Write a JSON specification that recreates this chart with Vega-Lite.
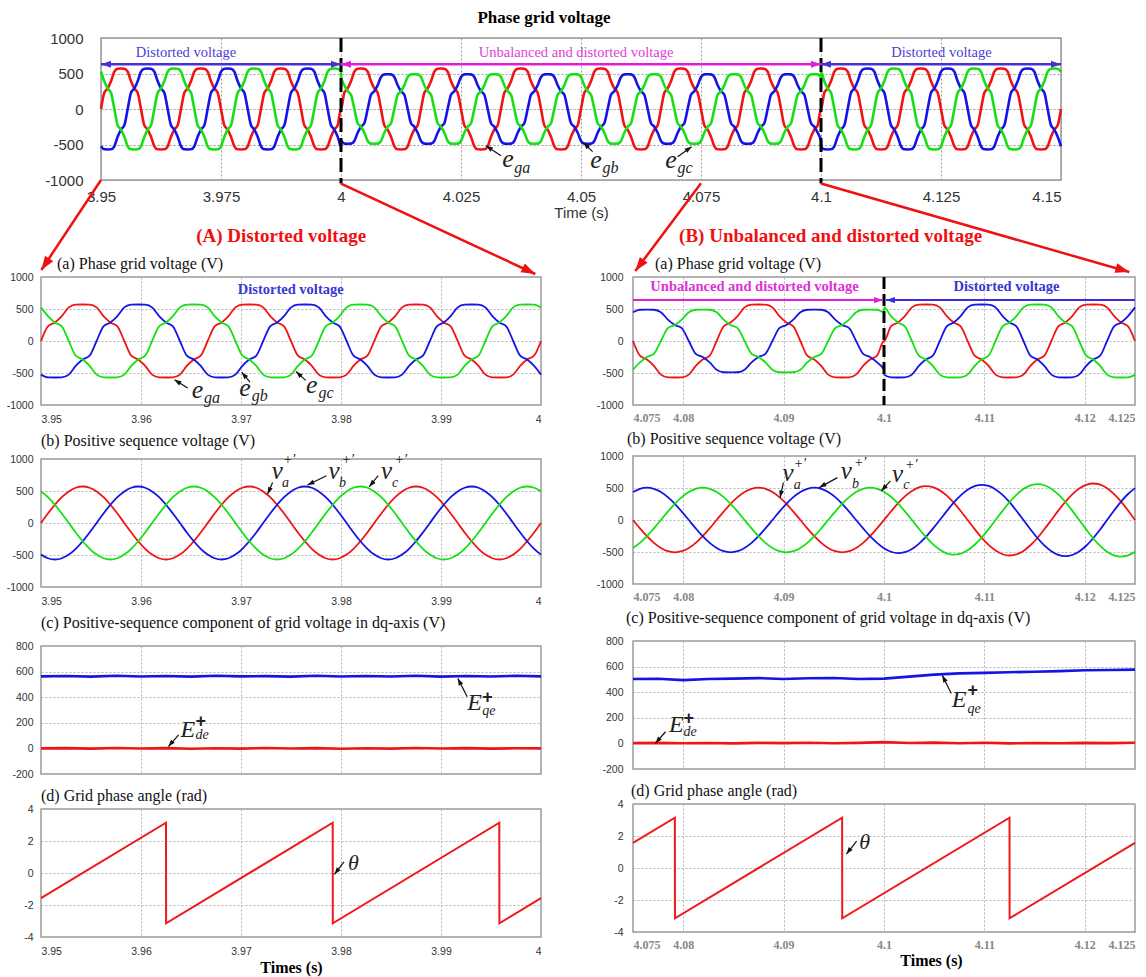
{
"$schema":"https://vega.github.io/schema/vega-lite/v6.json",
"background":"white",
"padding":{"left":5,"top":8,"right":0,"bottom":0},
"config":{
 "view":{"stroke":"#999","strokeWidth":1.5,"fill":"white"},
 "axis":{"ticks":false,"domain":false,"grid":true,"gridColor":"#b5b5b5","gridDash":[2,2],"gridWidth":1,"labelOverlap":false,"labelFont":"Liberation Sans Narrow, Liberation Sans","labelFontSize":10.5,"labelColor":"#333"},
 "title":{"font":"Liberation Serif","fontSize":16,"fontWeight":"normal","color":"#111","anchor":"start","frame":"group","offset":4},
 "text":{"font":"Liberation Serif"}
},
"datasets":{
 "pv":[
{"t":3.95,"a":0,"b":-525,"c":525},{"t":3.95069,"a":230,"b":-568,"c":390},{"t":3.95139,"a":290,"b":-570,"c":290},{"t":3.95208,"a":390,"b":-568,"c":230},{"t":3.95278,"a":525,"b":-525,"c":0},{"t":3.95347,"a":568,"b":-390,"c":-230},{"t":3.95417,"a":570,"b":-290,"c":-290},{"t":3.95486,"a":568,"b":-230,"c":-390},{"t":3.95556,"a":525,"b":0,"c":-525},{"t":3.95625,"a":390,"b":230,"c":-568},{"t":3.95694,"a":290,"b":290,"c":-570},{"t":3.95764,"a":230,"b":390,"c":-568},{"t":3.95833,"a":0,"b":525,"c":-525},{"t":3.95903,"a":-230,"b":568,"c":-390},{"t":3.95972,"a":-290,"b":570,"c":-290},{"t":3.96042,"a":-390,"b":568,"c":-230},{"t":3.96111,"a":-525,"b":525,"c":0},{"t":3.96181,"a":-568,"b":390,"c":230},{"t":3.9625,"a":-570,"b":290,"c":290},{"t":3.96319,"a":-568,"b":230,"c":390},{"t":3.96389,"a":-525,"b":0,"c":525},{"t":3.96458,"a":-390,"b":-230,"c":568},{"t":3.96528,"a":-290,"b":-290,"c":570},{"t":3.96597,"a":-230,"b":-390,"c":568},
{"t":3.96667,"a":0,"b":-525,"c":525},{"t":3.96736,"a":230,"b":-568,"c":390},{"t":3.96806,"a":290,"b":-570,"c":290},{"t":3.96875,"a":390,"b":-568,"c":230},{"t":3.96944,"a":525,"b":-525,"c":0},{"t":3.97014,"a":568,"b":-390,"c":-230},{"t":3.97083,"a":570,"b":-290,"c":-290},{"t":3.97153,"a":568,"b":-230,"c":-390},{"t":3.97222,"a":525,"b":0,"c":-525},{"t":3.97292,"a":390,"b":230,"c":-568},{"t":3.97361,"a":290,"b":290,"c":-570},{"t":3.97431,"a":230,"b":390,"c":-568},{"t":3.975,"a":0,"b":525,"c":-525},{"t":3.97569,"a":-230,"b":568,"c":-390},{"t":3.97639,"a":-290,"b":570,"c":-290},{"t":3.97708,"a":-390,"b":568,"c":-230},{"t":3.97778,"a":-525,"b":525,"c":0},{"t":3.97847,"a":-568,"b":390,"c":230},{"t":3.97917,"a":-570,"b":290,"c":290},{"t":3.97986,"a":-568,"b":230,"c":390},{"t":3.98056,"a":-525,"b":0,"c":525},{"t":3.98125,"a":-390,"b":-230,"c":568},{"t":3.98194,"a":-290,"b":-290,"c":570},{"t":3.98264,"a":-230,"b":-390,"c":568},
{"t":3.98333,"a":0,"b":-525,"c":525},{"t":3.98403,"a":230,"b":-568,"c":390},{"t":3.98472,"a":290,"b":-570,"c":290},{"t":3.98542,"a":390,"b":-568,"c":230},{"t":3.98611,"a":525,"b":-525,"c":0},{"t":3.98681,"a":568,"b":-390,"c":-230},{"t":3.9875,"a":570,"b":-290,"c":-290},{"t":3.98819,"a":568,"b":-230,"c":-390},{"t":3.98889,"a":525,"b":0,"c":-525},{"t":3.98958,"a":390,"b":230,"c":-568},{"t":3.99028,"a":290,"b":290,"c":-570},{"t":3.99097,"a":230,"b":390,"c":-568},{"t":3.99167,"a":0,"b":525,"c":-525},{"t":3.99236,"a":-230,"b":568,"c":-390},{"t":3.99306,"a":-290,"b":570,"c":-290},{"t":3.99375,"a":-390,"b":568,"c":-230},{"t":3.99444,"a":-525,"b":525,"c":0},{"t":3.99514,"a":-568,"b":390,"c":230},{"t":3.99583,"a":-570,"b":290,"c":290},{"t":3.99653,"a":-568,"b":230,"c":390},{"t":3.99722,"a":-525,"b":0,"c":525},{"t":3.99792,"a":-390,"b":-230,"c":568},{"t":3.99861,"a":-290,"b":-290,"c":570},{"t":3.99931,"a":-230,"b":-390,"c":568},
{"t":4.0,"a":0,"b":-525,"c":525},
{"t":4.00001,"a":0,"b":-450,"c":450},{"t":4.00069,"a":230,"b":-488,"c":335},{"t":4.00139,"a":290,"b":-490,"c":250},{"t":4.00208,"a":390,"b":-488,"c":200},{"t":4.00278,"a":525,"b":-450,"c":0},{"t":4.00347,"a":568,"b":-335,"c":-200},{"t":4.00417,"a":570,"b":-250,"c":-250},{"t":4.00486,"a":568,"b":-200,"c":-335},{"t":4.00556,"a":525,"b":0,"c":-450},{"t":4.00625,"a":390,"b":200,"c":-488},{"t":4.00694,"a":290,"b":250,"c":-490},{"t":4.00764,"a":230,"b":335,"c":-488},{"t":4.00833,"a":0,"b":450,"c":-450},{"t":4.00903,"a":-230,"b":488,"c":-335},{"t":4.00972,"a":-290,"b":490,"c":-250},{"t":4.01042,"a":-390,"b":488,"c":-200},{"t":4.01111,"a":-525,"b":450,"c":0},{"t":4.01181,"a":-568,"b":335,"c":200},{"t":4.0125,"a":-570,"b":250,"c":250},{"t":4.01319,"a":-568,"b":200,"c":335},{"t":4.01389,"a":-525,"b":0,"c":450},{"t":4.01458,"a":-390,"b":-200,"c":488},{"t":4.01528,"a":-290,"b":-250,"c":490},{"t":4.01597,"a":-230,"b":-335,"c":488},
{"t":4.01667,"a":0,"b":-450,"c":450},{"t":4.01736,"a":230,"b":-488,"c":335},{"t":4.01806,"a":290,"b":-490,"c":250},{"t":4.01875,"a":390,"b":-488,"c":200},{"t":4.01944,"a":525,"b":-450,"c":0},{"t":4.02014,"a":568,"b":-335,"c":-200},{"t":4.02083,"a":570,"b":-250,"c":-250},{"t":4.02153,"a":568,"b":-200,"c":-335},{"t":4.02222,"a":525,"b":0,"c":-450},{"t":4.02292,"a":390,"b":200,"c":-488},{"t":4.02361,"a":290,"b":250,"c":-490},{"t":4.02431,"a":230,"b":335,"c":-488},{"t":4.025,"a":0,"b":450,"c":-450},{"t":4.02569,"a":-230,"b":488,"c":-335},{"t":4.02639,"a":-290,"b":490,"c":-250},{"t":4.02708,"a":-390,"b":488,"c":-200},{"t":4.02778,"a":-525,"b":450,"c":0},{"t":4.02847,"a":-568,"b":335,"c":200},{"t":4.02917,"a":-570,"b":250,"c":250},{"t":4.02986,"a":-568,"b":200,"c":335},{"t":4.03056,"a":-525,"b":0,"c":450},{"t":4.03125,"a":-390,"b":-200,"c":488},{"t":4.03194,"a":-290,"b":-250,"c":490},{"t":4.03264,"a":-230,"b":-335,"c":488},
{"t":4.03333,"a":0,"b":-450,"c":450},{"t":4.03403,"a":230,"b":-488,"c":335},{"t":4.03472,"a":290,"b":-490,"c":250},{"t":4.03542,"a":390,"b":-488,"c":200},{"t":4.03611,"a":525,"b":-450,"c":0},{"t":4.03681,"a":568,"b":-335,"c":-200},{"t":4.0375,"a":570,"b":-250,"c":-250},{"t":4.03819,"a":568,"b":-200,"c":-335},{"t":4.03889,"a":525,"b":0,"c":-450},{"t":4.03958,"a":390,"b":200,"c":-488},{"t":4.04028,"a":290,"b":250,"c":-490},{"t":4.04097,"a":230,"b":335,"c":-488},{"t":4.04167,"a":0,"b":450,"c":-450},{"t":4.04236,"a":-230,"b":488,"c":-335},{"t":4.04306,"a":-290,"b":490,"c":-250},{"t":4.04375,"a":-390,"b":488,"c":-200},{"t":4.04444,"a":-525,"b":450,"c":0},{"t":4.04514,"a":-568,"b":335,"c":200},{"t":4.04583,"a":-570,"b":250,"c":250},{"t":4.04653,"a":-568,"b":200,"c":335},{"t":4.04722,"a":-525,"b":0,"c":450},{"t":4.04792,"a":-390,"b":-200,"c":488},{"t":4.04861,"a":-290,"b":-250,"c":490},{"t":4.04931,"a":-230,"b":-335,"c":488},
{"t":4.05,"a":0,"b":-450,"c":450},{"t":4.05069,"a":230,"b":-488,"c":335},{"t":4.05139,"a":290,"b":-490,"c":250},{"t":4.05208,"a":390,"b":-488,"c":200},{"t":4.05278,"a":525,"b":-450,"c":0},{"t":4.05347,"a":568,"b":-335,"c":-200},{"t":4.05417,"a":570,"b":-250,"c":-250},{"t":4.05486,"a":568,"b":-200,"c":-335},{"t":4.05556,"a":525,"b":0,"c":-450},{"t":4.05625,"a":390,"b":200,"c":-488},{"t":4.05694,"a":290,"b":250,"c":-490},{"t":4.05764,"a":230,"b":335,"c":-488},{"t":4.05833,"a":0,"b":450,"c":-450},{"t":4.05903,"a":-230,"b":488,"c":-335},{"t":4.05972,"a":-290,"b":490,"c":-250},{"t":4.06042,"a":-390,"b":488,"c":-200},{"t":4.06111,"a":-525,"b":450,"c":0},{"t":4.06181,"a":-568,"b":335,"c":200},{"t":4.0625,"a":-570,"b":250,"c":250},{"t":4.06319,"a":-568,"b":200,"c":335},{"t":4.06389,"a":-525,"b":0,"c":450},{"t":4.06458,"a":-390,"b":-200,"c":488},{"t":4.06528,"a":-290,"b":-250,"c":490},{"t":4.06597,"a":-230,"b":-335,"c":488},
{"t":4.06667,"a":0,"b":-450,"c":450},{"t":4.06736,"a":230,"b":-488,"c":335},{"t":4.06806,"a":290,"b":-490,"c":250},{"t":4.06875,"a":390,"b":-488,"c":200},{"t":4.06944,"a":525,"b":-450,"c":0},{"t":4.07014,"a":568,"b":-335,"c":-200},{"t":4.07083,"a":570,"b":-250,"c":-250},{"t":4.07153,"a":568,"b":-200,"c":-335},{"t":4.07222,"a":525,"b":0,"c":-450},{"t":4.07292,"a":390,"b":200,"c":-488},{"t":4.07361,"a":290,"b":250,"c":-490},{"t":4.07431,"a":230,"b":335,"c":-488},{"t":4.075,"a":0,"b":450,"c":-450},{"t":4.07569,"a":-230,"b":488,"c":-335},{"t":4.07639,"a":-290,"b":490,"c":-250},{"t":4.07708,"a":-390,"b":488,"c":-200},{"t":4.07778,"a":-525,"b":450,"c":0},{"t":4.07847,"a":-568,"b":335,"c":200},{"t":4.07917,"a":-570,"b":250,"c":250},{"t":4.07986,"a":-568,"b":200,"c":335},{"t":4.08056,"a":-525,"b":0,"c":450},{"t":4.08125,"a":-390,"b":-200,"c":488},{"t":4.08194,"a":-290,"b":-250,"c":490},{"t":4.08264,"a":-230,"b":-335,"c":488},
{"t":4.08333,"a":0,"b":-450,"c":450},{"t":4.08403,"a":230,"b":-488,"c":335},{"t":4.08472,"a":290,"b":-490,"c":250},{"t":4.08542,"a":390,"b":-488,"c":200},{"t":4.08611,"a":525,"b":-450,"c":0},{"t":4.08681,"a":568,"b":-335,"c":-200},{"t":4.0875,"a":570,"b":-250,"c":-250},{"t":4.08819,"a":568,"b":-200,"c":-335},{"t":4.08889,"a":525,"b":0,"c":-450},{"t":4.08958,"a":390,"b":200,"c":-488},{"t":4.09028,"a":290,"b":250,"c":-490},{"t":4.09097,"a":230,"b":335,"c":-488},{"t":4.09167,"a":0,"b":450,"c":-450},{"t":4.09236,"a":-230,"b":488,"c":-335},{"t":4.09306,"a":-290,"b":490,"c":-250},{"t":4.09375,"a":-390,"b":488,"c":-200},{"t":4.09444,"a":-525,"b":450,"c":0},{"t":4.09514,"a":-568,"b":335,"c":200},{"t":4.09583,"a":-570,"b":250,"c":250},{"t":4.09653,"a":-568,"b":200,"c":335},{"t":4.09722,"a":-525,"b":0,"c":450},{"t":4.09792,"a":-390,"b":-200,"c":488},{"t":4.09861,"a":-290,"b":-250,"c":490},{"t":4.09931,"a":-230,"b":-335,"c":488},
{"t":4.1,"a":0,"b":-450,"c":450},
{"t":4.10001,"a":0,"b":-525,"c":525},{"t":4.10069,"a":230,"b":-568,"c":390},{"t":4.10139,"a":290,"b":-570,"c":290},{"t":4.10208,"a":390,"b":-568,"c":230},{"t":4.10278,"a":525,"b":-525,"c":0},{"t":4.10347,"a":568,"b":-390,"c":-230},{"t":4.10417,"a":570,"b":-290,"c":-290},{"t":4.10486,"a":568,"b":-230,"c":-390},{"t":4.10556,"a":525,"b":0,"c":-525},{"t":4.10625,"a":390,"b":230,"c":-568},{"t":4.10694,"a":290,"b":290,"c":-570},{"t":4.10764,"a":230,"b":390,"c":-568},{"t":4.10833,"a":0,"b":525,"c":-525},{"t":4.10903,"a":-230,"b":568,"c":-390},{"t":4.10972,"a":-290,"b":570,"c":-290},{"t":4.11042,"a":-390,"b":568,"c":-230},{"t":4.11111,"a":-525,"b":525,"c":0},{"t":4.11181,"a":-568,"b":390,"c":230},{"t":4.1125,"a":-570,"b":290,"c":290},{"t":4.11319,"a":-568,"b":230,"c":390},{"t":4.11389,"a":-525,"b":0,"c":525},{"t":4.11458,"a":-390,"b":-230,"c":568},{"t":4.11528,"a":-290,"b":-290,"c":570},{"t":4.11597,"a":-230,"b":-390,"c":568},
{"t":4.11667,"a":0,"b":-525,"c":525},{"t":4.11736,"a":230,"b":-568,"c":390},{"t":4.11806,"a":290,"b":-570,"c":290},{"t":4.11875,"a":390,"b":-568,"c":230},{"t":4.11944,"a":525,"b":-525,"c":0},{"t":4.12014,"a":568,"b":-390,"c":-230},{"t":4.12083,"a":570,"b":-290,"c":-290},{"t":4.12153,"a":568,"b":-230,"c":-390},{"t":4.12222,"a":525,"b":0,"c":-525},{"t":4.12292,"a":390,"b":230,"c":-568},{"t":4.12361,"a":290,"b":290,"c":-570},{"t":4.12431,"a":230,"b":390,"c":-568},{"t":4.125,"a":0,"b":525,"c":-525},{"t":4.12569,"a":-230,"b":568,"c":-390},{"t":4.12639,"a":-290,"b":570,"c":-290},{"t":4.12708,"a":-390,"b":568,"c":-230},{"t":4.12778,"a":-525,"b":525,"c":0},{"t":4.12847,"a":-568,"b":390,"c":230},{"t":4.12917,"a":-570,"b":290,"c":290},{"t":4.12986,"a":-568,"b":230,"c":390},{"t":4.13056,"a":-525,"b":0,"c":525},{"t":4.13125,"a":-390,"b":-230,"c":568},{"t":4.13194,"a":-290,"b":-290,"c":570},{"t":4.13264,"a":-230,"b":-390,"c":568},
{"t":4.13333,"a":0,"b":-525,"c":525},{"t":4.13403,"a":230,"b":-568,"c":390},{"t":4.13472,"a":290,"b":-570,"c":290},{"t":4.13542,"a":390,"b":-568,"c":230},{"t":4.13611,"a":525,"b":-525,"c":0},{"t":4.13681,"a":568,"b":-390,"c":-230},{"t":4.1375,"a":570,"b":-290,"c":-290},{"t":4.13819,"a":568,"b":-230,"c":-390},{"t":4.13889,"a":525,"b":0,"c":-525},{"t":4.13958,"a":390,"b":230,"c":-568},{"t":4.14028,"a":290,"b":290,"c":-570},{"t":4.14097,"a":230,"b":390,"c":-568},{"t":4.14167,"a":0,"b":525,"c":-525},{"t":4.14236,"a":-230,"b":568,"c":-390},{"t":4.14306,"a":-290,"b":570,"c":-290},{"t":4.14375,"a":-390,"b":568,"c":-230},{"t":4.14444,"a":-525,"b":525,"c":0},{"t":4.14514,"a":-568,"b":390,"c":230},{"t":4.14583,"a":-570,"b":290,"c":290},{"t":4.14653,"a":-568,"b":230,"c":390},{"t":4.14722,"a":-525,"b":0,"c":525},{"t":4.14792,"a":-390,"b":-230,"c":568},{"t":4.14861,"a":-290,"b":-290,"c":570},{"t":4.14931,"a":-230,"b":-390,"c":568},
{"t":4.15,"a":0,"b":-525,"c":525}
 ],
 "ps":[
{"t":3.95,"a":0,"b":-494,"c":494},{"t":3.95069,"a":148,"b":-551,"c":403},{"t":3.95139,"a":285,"b":-570,"c":285},{"t":3.95208,"a":403,"b":-551,"c":148},{"t":3.95278,"a":494,"b":-494,"c":0},{"t":3.95347,"a":551,"b":-403,"c":-148},{"t":3.95417,"a":570,"b":-285,"c":-285},{"t":3.95486,"a":551,"b":-148,"c":-403},{"t":3.95556,"a":494,"b":0,"c":-494},{"t":3.95625,"a":403,"b":148,"c":-551},{"t":3.95694,"a":285,"b":285,"c":-570},{"t":3.95764,"a":148,"b":403,"c":-551},{"t":3.95833,"a":0,"b":494,"c":-494},{"t":3.95903,"a":-148,"b":551,"c":-403},{"t":3.95972,"a":-285,"b":570,"c":-285},{"t":3.96042,"a":-403,"b":551,"c":-148},{"t":3.96111,"a":-494,"b":494,"c":0},{"t":3.96181,"a":-551,"b":403,"c":148},{"t":3.9625,"a":-570,"b":285,"c":285},{"t":3.96319,"a":-551,"b":148,"c":403},{"t":3.96389,"a":-494,"b":0,"c":494},{"t":3.96458,"a":-403,"b":-148,"c":551},{"t":3.96528,"a":-285,"b":-285,"c":570},{"t":3.96597,"a":-148,"b":-403,"c":551},
{"t":3.96667,"a":0,"b":-494,"c":494},{"t":3.96736,"a":148,"b":-551,"c":403},{"t":3.96806,"a":285,"b":-570,"c":285},{"t":3.96875,"a":403,"b":-551,"c":148},{"t":3.96944,"a":494,"b":-494,"c":0},{"t":3.97014,"a":551,"b":-403,"c":-148},{"t":3.97083,"a":570,"b":-285,"c":-285},{"t":3.97153,"a":551,"b":-148,"c":-403},{"t":3.97222,"a":494,"b":0,"c":-494},{"t":3.97292,"a":403,"b":148,"c":-551},{"t":3.97361,"a":285,"b":285,"c":-570},{"t":3.97431,"a":148,"b":403,"c":-551},{"t":3.975,"a":0,"b":494,"c":-494},{"t":3.97569,"a":-148,"b":551,"c":-403},{"t":3.97639,"a":-285,"b":570,"c":-285},{"t":3.97708,"a":-403,"b":551,"c":-148},{"t":3.97778,"a":-494,"b":494,"c":0},{"t":3.97847,"a":-551,"b":403,"c":148},{"t":3.97917,"a":-570,"b":285,"c":285},{"t":3.97986,"a":-551,"b":148,"c":403},{"t":3.98056,"a":-494,"b":0,"c":494},{"t":3.98125,"a":-403,"b":-148,"c":551},{"t":3.98194,"a":-285,"b":-285,"c":570},{"t":3.98264,"a":-148,"b":-403,"c":551},
{"t":3.98333,"a":0,"b":-494,"c":494},{"t":3.98403,"a":148,"b":-551,"c":403},{"t":3.98472,"a":285,"b":-570,"c":285},{"t":3.98542,"a":403,"b":-551,"c":148},{"t":3.98611,"a":494,"b":-494,"c":0},{"t":3.98681,"a":551,"b":-403,"c":-148},{"t":3.9875,"a":570,"b":-285,"c":-285},{"t":3.98819,"a":551,"b":-148,"c":-403},{"t":3.98889,"a":494,"b":0,"c":-494},{"t":3.98958,"a":403,"b":148,"c":-551},{"t":3.99028,"a":285,"b":285,"c":-570},{"t":3.99097,"a":148,"b":403,"c":-551},{"t":3.99167,"a":0,"b":494,"c":-494},{"t":3.99236,"a":-148,"b":551,"c":-403},{"t":3.99306,"a":-285,"b":570,"c":-285},{"t":3.99375,"a":-403,"b":551,"c":-148},{"t":3.99444,"a":-494,"b":494,"c":0},{"t":3.99514,"a":-551,"b":403,"c":148},{"t":3.99583,"a":-570,"b":285,"c":285},{"t":3.99653,"a":-551,"b":148,"c":403},{"t":3.99722,"a":-494,"b":0,"c":494},{"t":3.99792,"a":-403,"b":-148,"c":551},{"t":3.99861,"a":-285,"b":-285,"c":570},{"t":3.99931,"a":-148,"b":-403,"c":551},
{"t":4.0,"a":0,"b":-494,"c":494},
{"t":4.075,"a":0,"b":437,"c":-437},{"t":4.07569,"a":-131,"b":488,"c":-357},{"t":4.07639,"a":-253,"b":505,"c":-253},{"t":4.07708,"a":-357,"b":488,"c":-131},{"t":4.07778,"a":-437,"b":437,"c":0},{"t":4.07847,"a":-488,"b":357,"c":131},{"t":4.07917,"a":-505,"b":253,"c":253},{"t":4.07986,"a":-488,"b":131,"c":357},{"t":4.08056,"a":-437,"b":0,"c":437},{"t":4.08125,"a":-357,"b":-131,"c":488},{"t":4.08194,"a":-253,"b":-253,"c":505},{"t":4.08264,"a":-131,"b":-357,"c":488},
{"t":4.08333,"a":0,"b":-437,"c":437},{"t":4.08403,"a":131,"b":-488,"c":357},{"t":4.08472,"a":253,"b":-505,"c":253},{"t":4.08542,"a":357,"b":-488,"c":131},{"t":4.08611,"a":437,"b":-437,"c":0},{"t":4.08681,"a":488,"b":-357,"c":-131},{"t":4.0875,"a":505,"b":-253,"c":-253},{"t":4.08819,"a":488,"b":-131,"c":-357},{"t":4.08889,"a":437,"b":0,"c":-437},{"t":4.08958,"a":357,"b":131,"c":-488},{"t":4.09028,"a":253,"b":253,"c":-505},{"t":4.09097,"a":131,"b":357,"c":-488},{"t":4.09167,"a":0,"b":437,"c":-437},{"t":4.09236,"a":-131,"b":488,"c":-357},{"t":4.09306,"a":-253,"b":505,"c":-253},{"t":4.09375,"a":-357,"b":488,"c":-131},{"t":4.09444,"a":-437,"b":437,"c":0},{"t":4.09514,"a":-488,"b":357,"c":131},{"t":4.09583,"a":-505,"b":253,"c":253},{"t":4.09653,"a":-488,"b":131,"c":357},{"t":4.09722,"a":-437,"b":0,"c":437},{"t":4.09792,"a":-357,"b":-131,"c":488},{"t":4.09861,"a":-253,"b":-253,"c":505},{"t":4.09931,"a":-131,"b":-357,"c":488},
{"t":4.1,"a":0,"b":-442,"c":442},{"t":4.10069,"a":133,"b":-496,"c":363},{"t":4.10139,"a":259,"b":-517,"c":259},{"t":4.10208,"a":368,"b":-503,"c":135},{"t":4.10278,"a":454,"b":-454,"c":0},{"t":4.10347,"a":509,"b":-373,"c":-136},{"t":4.10417,"a":530,"b":-265,"c":-265},{"t":4.10486,"a":515,"b":-138,"c":-377},{"t":4.10556,"a":463,"b":0,"c":-463},{"t":4.10625,"a":380,"b":139,"c":-520},{"t":4.10694,"a":270,"b":270,"c":-540},{"t":4.10764,"a":141,"b":384,"c":-524},{"t":4.10833,"a":0,"b":472,"c":-472},{"t":4.10903,"a":-142,"b":528,"c":-387},{"t":4.10972,"a":-275,"b":549,"c":-275},{"t":4.11042,"a":-390,"b":532,"c":-143},{"t":4.11111,"a":-478,"b":478,"c":0},{"t":4.11181,"a":-535,"b":392,"c":143},{"t":4.1125,"a":-555,"b":278,"c":278},{"t":4.11319,"a":-538,"b":144,"c":394},{"t":4.11389,"a":-483,"b":0,"c":483},{"t":4.11458,"a":-395,"b":-145,"c":540},{"t":4.11528,"a":-281,"b":-281,"c":561},{"t":4.11597,"a":-145,"b":-397,"c":543},
{"t":4.11667,"a":0,"b":-488,"c":488},{"t":4.11736,"a":146,"b":-545,"c":399},{"t":4.11806,"a":283,"b":-565,"c":283},{"t":4.11875,"a":400,"b":-547,"c":146},{"t":4.11944,"a":491,"b":-491,"c":0},{"t":4.12014,"a":549,"b":-402,"c":-147},{"t":4.12083,"a":570,"b":-285,"c":-285},{"t":4.12153,"a":552,"b":-148,"c":-404},{"t":4.12222,"a":495,"b":0,"c":-495},{"t":4.12292,"a":404,"b":148,"c":-553},{"t":4.12361,"a":287,"b":287,"c":-573},{"t":4.12431,"a":149,"b":406,"c":-554},{"t":4.125,"a":0,"b":498,"c":-498}
 ],
 "dq":[
{"t":3.95,"q":563,"d":0},{"t":3.9525,"q":566,"d":2},{"t":3.955,"q":561,"d":-2},{"t":3.9575,"q":567,"d":3},{"t":3.96,"q":562,"d":-1},{"t":3.9625,"q":566,"d":2},{"t":3.965,"q":561,"d":-3},{"t":3.9675,"q":568,"d":1},{"t":3.97,"q":563,"d":-2},{"t":3.9725,"q":565,"d":3},{"t":3.975,"q":561,"d":-1},{"t":3.9775,"q":567,"d":2},{"t":3.98,"q":562,"d":-3},{"t":3.9825,"q":566,"d":1},{"t":3.985,"q":562,"d":-2},{"t":3.9875,"q":568,"d":3},{"t":3.99,"q":561,"d":-1},{"t":3.9925,"q":566,"d":2},{"t":3.995,"q":562,"d":-2},{"t":3.9975,"q":567,"d":1},{"t":4.0,"q":563,"d":0},
{"t":4.075,"q":503,"d":2},{"t":4.0775,"q":505,"d":4},{"t":4.08,"q":494,"d":1},{"t":4.0825,"q":503,"d":3},{"t":4.085,"q":506,"d":0},{"t":4.0875,"q":510,"d":4},{"t":4.09,"q":503,"d":2},{"t":4.0925,"q":509,"d":5},{"t":4.095,"q":511,"d":1},{"t":4.0975,"q":503,"d":4},{"t":4.1,"q":506,"d":10},{"t":4.1025,"q":522,"d":3},{"t":4.105,"q":537,"d":6},{"t":4.1075,"q":547,"d":1},{"t":4.11,"q":551,"d":5},{"t":4.1125,"q":556,"d":0},{"t":4.115,"q":560,"d":3},{"t":4.1175,"q":565,"d":1},{"t":4.12,"q":571,"d":4},{"t":4.1225,"q":574,"d":2},{"t":4.125,"q":576,"d":5}
 ],
 "th":[
{"t":3.95,"v":-1.571},{"t":3.9625,"v":3.1416},{"t":3.96251,"v":-3.1416},{"t":3.97917,"v":3.1416},{"t":3.97918,"v":-3.1416},{"t":3.99583,"v":3.1416},{"t":3.99584,"v":-3.1416},{"t":4.0,"v":-1.571},
{"t":4.075,"v":1.571},{"t":4.07917,"v":3.1416},{"t":4.07918,"v":-3.1416},{"t":4.09583,"v":3.1416},{"t":4.09584,"v":-3.1416},{"t":4.1125,"v":3.1416},{"t":4.11251,"v":-3.1416},{"t":4.125,"v":1.571}
 ]
},
"vconcat":[
{
 "hconcat":[
  {"width":2,"height":142,"data":{"values":[]},"mark":{"type":"point"},"view":{"stroke":null,"fill":null}},
  {
   "width":960,"height":142,
   "title":{"text":"Phase grid voltage","anchor":"middle","frame":"group","dx":-37,"offset":4,"fontSize":17,"fontWeight":"bold","color":"#000"},
   "encoding":{
    "x":{"field":"t","type":"quantitative","scale":{"domain":[3.95,4.15],"nice":false,"zero":false},"axis":{"values":[3.95,3.975,4,4.025,4.05,4.075,4.1,4.125,4.15],"labelExpr":"''+datum.value","labelFont":"Liberation Sans","labelFontSize":15,"labelPadding":9,"labelAlign":{"condition":{"test":"datum.value > 4.14","value":"right"},"value":"center"},"title":"Time (s)","titleFont":"Liberation Sans","titleFontSize":15,"titleFontWeight":"normal","titleColor":"#333","titlePadding":1,"gridColor":"#999"}},
    "y":{"field":"v","type":"quantitative","scale":{"domain":[-1000,1000],"nice":false},"axis":{"values":[-1000,-500,0,500,1000],"labelExpr":"''+datum.value","labelFont":"Liberation Sans","labelFontSize":15,"labelPadding":18,"title":null,"minExtent":56,"maxExtent":56,"gridColor":"#999"}}
   },
   "layer":[
    {"data":{"name":"pv"},"transform":[{"fold":["a","b","c"],"as":["ph","v"]}],"mark":{"type":"line","interpolate":"monotone","strokeWidth":2.6},"encoding":{"color":{"field":"ph","type":"nominal","scale":{"domain":["a","b","c"],"range":["#f01414","#1414e6","#14e014"]},"legend":null}}},
    {"data":{"values":[{"t":4.0,"v":1000,"v2":-1050},{"t":4.1,"v":1000,"v2":-1050}]},"mark":{"type":"rule","color":"#000","strokeWidth":3,"strokeDash":[14,6]},"encoding":{"y2":{"field":"v2"}}},
    {"data":{"values":[{"t":3.95,"t2":4.0,"v":630},{"t":4.1,"t2":4.15,"v":630}]},"mark":{"type":"rule","color":"#4a2ed8","strokeWidth":2.5},"encoding":{"x2":{"field":"t2"}}},
    {"data":{"values":[{"t":4.0,"t2":4.1,"v":630}]},"mark":{"type":"rule","color":"#e01ed8","strokeWidth":2.5},"encoding":{"x2":{"field":"t2"}}},
    {"data":{"values":[{"t":3.95,"v":630},{"t":4.1,"v":630}]},"mark":{"type":"point","shape":"M0,0L2,-0.7L2,0.7Z","filled":true,"size":100,"color":"#4a2ed8","opacity":1},"encoding":{}},
    {"data":{"values":[{"t":4.0,"v":630},{"t":4.15,"v":630}]},"mark":{"type":"point","shape":"M0,0L-2,0.7L-2,-0.7Z","filled":true,"size":100,"color":"#4a2ed8","opacity":1},"encoding":{}},
    {"data":{"values":[{"t":4.0,"v":630}]},"mark":{"type":"point","shape":"M0,0L2,-0.7L2,0.7Z","filled":true,"size":100,"color":"#e01ed8","opacity":1},"encoding":{}},
    {"data":{"values":[{"t":4.1,"v":630}]},"mark":{"type":"point","shape":"M0,0L-2,0.7L-2,-0.7Z","filled":true,"size":100,"color":"#e01ed8","opacity":1},"encoding":{}},
    {"data":{"values":[{"t":3.96771,"v":785,"s":"Distorted voltage"},{"t":4.1251,"v":785,"s":"Distorted voltage"}]},"mark":{"type":"text","fontSize":14.5,"color":"#4b3fd3","baseline":"middle"},"encoding":{"text":{"field":"s"}}},
    {"data":{"values":[{"t":4.04898,"v":785,"s":"Unbalanced and distorted voltage"}]},"mark":{"type":"text","fontSize":14.5,"color":"#e040d8","baseline":"middle"},"encoding":{"text":{"field":"s"}}},
    {"data":{"values":[{"t":4.03481,"v":-821,"s":"e"},{"t":4.05313,"v":-835,"s":"e"},{"t":4.06877,"v":-835,"s":"e"}]},"mark":{"type":"text","fontStyle":"italic","fontSize":26,"baseline":"alphabetic","color":"#222"},"encoding":{"text":{"field":"s"}}},
    {"data":{"values":[{"t":4.0361,"v":-906,"s":"ga"},{"t":4.0545,"v":-906,"s":"gb"},{"t":4.07013,"v":-906,"s":"gc"}]},"mark":{"type":"text","fontStyle":"italic","fontSize":16,"align":"left","baseline":"alphabetic","color":"#222"},"encoding":{"text":{"field":"s"}}},
    {"data":{"values":[{"t":4.03021,"v":-517,"t2":4.03333,"v2":-658}]},"layer":[{"mark":{"type":"rule","color":"#111","strokeWidth":1.2},"encoding":{"x2":{"field":"t2"},"y2":{"field":"v2"}}},{"mark":{"type":"point","shape":"M0,0L2.05,0.54L1.27,1.7Z","filled":true,"size":49,"color":"#111","opacity":1},"encoding":{}}]},
    {"data":{"values":[{"t":4.05048,"v":-475,"t2":4.05242,"v2":-601}]},"layer":[{"mark":{"type":"rule","color":"#111","strokeWidth":1.2},"encoding":{"x2":{"field":"t2"},"y2":{"field":"v2"}}},{"mark":{"type":"point","shape":"M0,0L1.93,0.89L0.95,1.89Z","filled":true,"size":49,"color":"#111","opacity":1},"encoding":{}}]},
    {"data":{"values":[{"t":4.07304,"v":-531,"t2":4.07013,"v2":-672}]},"layer":[{"mark":{"type":"rule","color":"#111","strokeWidth":1.2},"encoding":{"x2":{"field":"t2"},"y2":{"field":"v2"}}},{"mark":{"type":"point","shape":"M0,0L-1.21,1.74L-2.03,0.61Z","filled":true,"size":49,"color":"#111","opacity":1},"encoding":{}}]},
    {"data":{"values":[{"t":3.93756,"v":-2268,"t2":3.95,"v2":-1000}]},"layer":[{"mark":{"type":"rule","color":"#f01010","strokeWidth":2.5},"encoding":{"x2":{"field":"t2"},"y2":{"field":"v2"}}},{"mark":{"type":"point","shape":"M0,0L0.54,-2.05L1.7,-1.27Z","filled":true,"size":196,"color":"#f01010","opacity":1},"encoding":{}}]},
    {"data":{"values":[{"t":4.04048,"v":-2324,"t2":4.0,"v2":-1050}]},"layer":[{"mark":{"type":"rule","color":"#f01010","strokeWidth":2.5},"encoding":{"x2":{"field":"t2"},"y2":{"field":"v2"}}},{"mark":{"type":"point","shape":"M0,0L-2.11,-0.25L-1.49,-1.51Z","filled":true,"size":196,"color":"#f01010","opacity":1},"encoding":{}}]},
    {"data":{"values":[{"t":4.06131,"v":-2282,"t2":4.075,"v2":-1045}]},"layer":[{"mark":{"type":"rule","color":"#f01010","strokeWidth":2.5},"encoding":{"x2":{"field":"t2"},"y2":{"field":"v2"}}},{"mark":{"type":"point","shape":"M0,0L0.65,-2.02L1.76,-1.18Z","filled":true,"size":196,"color":"#f01010","opacity":1},"encoding":{}}]},
    {"data":{"values":[{"t":4.16423,"v":-2296,"t2":4.1,"v2":-1050}]},"layer":[{"mark":{"type":"rule","color":"#f01010","strokeWidth":2.5},"encoding":{"x2":{"field":"t2"},"y2":{"field":"v2"}}},{"mark":{"type":"point","shape":"M0,0L-2.12,0.09L-1.71,-1.25Z","filled":true,"size":196,"color":"#f01010","opacity":1},"encoding":{}}]}
   ]
  }
 ],
 "spacing":-4
},
{
 "hconcat":[
  {
   "vconcat":[
    {
     "width":500,"height":128,
     "title":{"text":"(a) Phase grid voltage (V)","dx":16,"offset":0},
     "encoding":{
      "x":{"field":"t","type":"quantitative","scale":{"domain":[3.95,4.0],"nice":false,"zero":false},"axis":{"values":[3.95,3.96,3.97,3.98,3.99,4],"labelExpr":"''+datum.value","title":null,"labelPadding":9}},
      "y":{"field":"v","type":"quantitative","scale":{"domain":[-1000,1000],"nice":false},"axis":{"values":[-1000,-500,0,500,1000],"labelExpr":"''+datum.value","title":null,"labelPadding":8,"minExtent":34,"maxExtent":34}}
     },
     "layer":[
      {"data":{"name":"pv"},"transform":[{"filter":"datum.t >= 3.95 && datum.t <= 4.0"},{"fold":["a","b","c"],"as":["ph","v"]}],"mark":{"type":"line","interpolate":"monotone","strokeWidth":1.8},"encoding":{"color":{"field":"ph","type":"nominal","scale":{"domain":["a","b","c"],"range":["#ff2a2a","#2a2aff","#22dd22"]},"legend":null}}},
      {"data":{"values":[{"t":3.97497,"v":728,"s":"Distorted voltage"}]},"mark":{"type":"text","fontWeight":"bold","fontSize":14.5,"color":"#3838d4","baseline":"alphabetic"},"encoding":{"text":{"field":"s"}}},
      {"data":{"values":[{"t":3.96565,"v":-897,"s":"e"},{"t":3.9704,"v":-857,"s":"e"},{"t":3.97707,"v":-820,"s":"e"}]},"mark":{"type":"text","fontStyle":"italic","fontSize":26,"baseline":"alphabetic","color":"#222"},"encoding":{"text":{"field":"s"}}},
      {"data":{"values":[{"t":3.9663,"v":-974,"s":"ga"},{"t":3.97107,"v":-938,"s":"gb"},{"t":3.97774,"v":-897,"s":"gc"}]},"mark":{"type":"text","fontStyle":"italic","fontSize":16,"align":"left","baseline":"alphabetic","color":"#222"},"encoding":{"text":{"field":"s"}}},
      {"data":{"values":[{"t":3.96334,"v":-605,"t2":3.96467,"v2":-733}]},"layer":[{"mark":{"type":"rule","color":"#111","strokeWidth":1.2},"encoding":{"x2":{"field":"t2"},"y2":{"field":"v2"}}},{"mark":{"type":"point","shape":"M0,0L2.07,0.47L1.33,1.65Z","filled":true,"size":49,"color":"#111","opacity":1},"encoding":{}}]},
      {"data":{"values":[{"t":3.97007,"v":-488,"t2":3.9709,"v2":-641}]},"layer":[{"mark":{"type":"rule","color":"#111","strokeWidth":1.2},"encoding":{"x2":{"field":"t2"},"y2":{"field":"v2"}}},{"mark":{"type":"point","shape":"M0,0L1.82,1.08L0.75,1.98Z","filled":true,"size":49,"color":"#111","opacity":1},"encoding":{}}]},
      {"data":{"values":[{"t":3.9755,"v":-477,"t2":3.97647,"v2":-615}]},"layer":[{"mark":{"type":"rule","color":"#111","strokeWidth":1.2},"encoding":{"x2":{"field":"t2"},"y2":{"field":"v2"}}},{"mark":{"type":"point","shape":"M0,0L1.94,0.85L0.99,1.88Z","filled":true,"size":49,"color":"#111","opacity":1},"encoding":{}}]}
     ]
    },
    {
     "width":500,"height":128,
     "title":{"text":"(b) Positive sequence voltage (V)","offset":4},
     "encoding":{
      "x":{"field":"t","type":"quantitative","scale":{"domain":[3.95,4.0],"nice":false,"zero":false},"axis":{"values":[3.95,3.96,3.97,3.98,3.99,4],"labelExpr":"''+datum.value","title":null,"labelPadding":9}},
      "y":{"field":"v","type":"quantitative","scale":{"domain":[-1000,1000],"nice":false},"axis":{"values":[-1000,-500,0,500,1000],"labelExpr":"''+datum.value","title":null,"labelPadding":8,"minExtent":34,"maxExtent":34}}
     },
     "layer":[
      {"data":{"name":"ps"},"transform":[{"filter":"datum.t >= 3.95 && datum.t <= 4.0"},{"fold":["a","b","c"],"as":["ph","v"]}],"mark":{"type":"line","interpolate":"monotone","strokeWidth":1.8},"encoding":{"color":{"field":"ph","type":"nominal","scale":{"domain":["a","b","c"],"range":["#ff2a2a","#2a2aff","#22dd22"]},"legend":null}}},
      {"data":{"values":[{"t":3.97362,"v":687,"s":"v"},{"t":3.9793,"v":687,"s":"v"},{"t":3.98456,"v":687,"s":"v"}]},"mark":{"type":"text","fontStyle":"italic","fontSize":25,"baseline":"alphabetic","color":"#222"},"encoding":{"text":{"field":"s"}}},
      {"data":{"values":[{"t":3.97411,"v":556,"s":"a"},{"t":3.97979,"v":556,"s":"b"},{"t":3.98509,"v":556,"s":"c"}]},"mark":{"type":"text","fontStyle":"italic","fontSize":14,"align":"left","baseline":"alphabetic","color":"#222"},"encoding":{"text":{"field":"s"}}},
      {"data":{"values":[{"t":3.97419,"v":922,"s":"+′"},{"t":3.98005,"v":922,"s":"+′"},{"t":3.98535,"v":922,"s":"+′"}]},"mark":{"type":"text","fontStyle":"italic","fontSize":14,"align":"left","baseline":"alphabetic","color":"#222"},"encoding":{"text":{"field":"s"}}},
      {"data":{"values":[{"t":3.97267,"v":452,"t2":3.97316,"v2":634}]},"layer":[{"mark":{"type":"rule","color":"#111","strokeWidth":1.2},"encoding":{"x2":{"field":"t2"},"y2":{"field":"v2"}}},{"mark":{"type":"point","shape":"M0,0L0.14,-2.12L1.43,-1.57Z","filled":true,"size":49,"color":"#111","opacity":1},"encoding":{}}]},
      {"data":{"values":[{"t":3.97665,"v":593,"t2":3.97854,"v2":739}]},"layer":[{"mark":{"type":"rule","color":"#111","strokeWidth":1.2},"encoding":{"x2":{"field":"t2"},"y2":{"field":"v2"}}},{"mark":{"type":"point","shape":"M0,0L1.49,-1.51L2.11,-0.25Z","filled":true,"size":49,"color":"#111","opacity":1},"encoding":{}}]},
      {"data":{"values":[{"t":3.98282,"v":567,"t2":3.98372,"v2":739}]},"layer":[{"mark":{"type":"rule","color":"#111","strokeWidth":1.2},"encoding":{"x2":{"field":"t2"},"y2":{"field":"v2"}}},{"mark":{"type":"point","shape":"M0,0L0.75,-1.98L1.82,-1.08Z","filled":true,"size":49,"color":"#111","opacity":1},"encoding":{}}]}
     ]
    },
    {
     "width":500,"height":128,
     "title":{"text":"(c) Positive-sequence component of grid voltage in dq-axis (V)","offset":10},
     "encoding":{
      "x":{"field":"t","type":"quantitative","scale":{"domain":[3.95,4.0],"nice":false,"zero":false},"axis":{"values":[3.95,3.96,3.97,3.98,3.99,4],"labels":false,"title":null}},
      "y":{"field":"v","type":"quantitative","scale":{"domain":[-200,800],"nice":false},"axis":{"values":[-200,0,200,400,600,800],"labelExpr":"''+datum.value","title":null,"labelPadding":8,"minExtent":34,"maxExtent":34}}
     },
     "layer":[
      {"data":{"name":"dq"},"transform":[{"filter":"datum.t >= 3.95 && datum.t <= 4.0"},{"fold":["d","q"],"as":["ph","v"]}],"mark":{"type":"line","strokeWidth":2.6},"encoding":{"color":{"field":"ph","type":"nominal","scale":{"domain":["d","q"],"range":["#f01818","#1c1ce8"]},"legend":null}}},
      {"data":{"values":[{"t":3.99337,"v":300,"s":"E"},{"t":3.96469,"v":86,"s":"E"}]},"mark":{"type":"text","fontStyle":"italic","fontSize":24,"baseline":"alphabetic","color":"#222"},"encoding":{"text":{"field":"s"}}},
      {"data":{"values":[{"t":3.99412,"v":357,"s":"+"},{"t":3.96544,"v":167,"s":"+"}]},"mark":{"type":"text","font":"Liberation Sans","fontWeight":"bold","fontSize":18,"align":"left","baseline":"alphabetic","color":"#222"},"encoding":{"text":{"field":"s"}}},
      {"data":{"values":[{"t":3.99412,"v":261,"s":"qe"},{"t":3.96544,"v":71,"s":"de"}]},"mark":{"type":"text","fontStyle":"italic","fontSize":14,"align":"left","baseline":"alphabetic","color":"#222"},"encoding":{"text":{"field":"s"}}},
      {"data":{"values":[{"t":3.99168,"v":547,"t2":3.99262,"v2":404}]},"layer":[{"mark":{"type":"rule","color":"#111","strokeWidth":1.2},"encoding":{"x2":{"field":"t2"},"y2":{"field":"v2"}}},{"mark":{"type":"point","shape":"M0,0L1.53,1.46L0.28,2.1Z","filled":true,"size":49,"color":"#111","opacity":1},"encoding":{}}]},
      {"data":{"values":[{"t":3.96274,"v":14,"t2":3.96376,"v2":105}]},"layer":[{"mark":{"type":"rule","color":"#111","strokeWidth":1.2},"encoding":{"x2":{"field":"t2"},"y2":{"field":"v2"}}},{"mark":{"type":"point","shape":"M0,0L0.75,-1.98L1.82,-1.08Z","filled":true,"size":49,"color":"#111","opacity":1},"encoding":{}}]}
     ]
    },
    {
     "width":500,"height":128,
     "title":{"text":"(d) Grid phase angle (rad)","offset":0},
     "encoding":{
      "x":{"field":"t","type":"quantitative","scale":{"domain":[3.95,4.0],"nice":false,"zero":false},"axis":{"values":[3.95,3.96,3.97,3.98,3.99,4],"labelExpr":"''+datum.value","labelPadding":9,"title":"Times (s)","titleFont":"Liberation Serif","titleFontSize":16,"titleFontWeight":"bold","titleColor":"#000","titlePadding":3}},
      "y":{"field":"v","type":"quantitative","scale":{"domain":[-4,4],"nice":false},"axis":{"values":[-4,-2,0,2,4],"labelExpr":"''+datum.value","title":null,"labelPadding":8,"minExtent":34,"maxExtent":34}}
     },
     "layer":[
      {"data":{"name":"th"},"transform":[{"filter":"datum.t >= 3.95 && datum.t <= 4.0"}],"mark":{"type":"line","strokeWidth":2,"color":"#f01818"},"encoding":{}},
      {"data":{"values":[{"t":3.98124,"v":0.17,"s":"θ"}]},"mark":{"type":"text","fontStyle":"italic","fontSize":22,"baseline":"alphabetic","color":"#222"},"encoding":{"text":{"field":"s"}}},
      {"data":{"values":[{"t":3.97935,"v":-0.08,"t2":3.98029,"v2":0.69}]},"layer":[{"mark":{"type":"rule","color":"#111","strokeWidth":1.2},"encoding":{"x2":{"field":"t2"},"y2":{"field":"v2"}}},{"mark":{"type":"point","shape":"M0,0L0.65,-2.02L1.76,-1.18Z","filled":true,"size":49,"color":"#111","opacity":1},"encoding":{}}]}
     ]
    }
   ],
   "spacing":6,
   "title":{"text":"(A) Distorted voltage","anchor":"middle","frame":"bounds","dx":5,"offset":9,"fontSize":19,"fontWeight":"bold","color":"#f01010"}
  },
  {
   "vconcat":[
    {
     "width":502,"height":128,
     "title":{"text":"(a) Phase grid voltage (V)","dx":22,"offset":0},
     "encoding":{
      "x":{"field":"t","type":"quantitative","scale":{"domain":[4.075,4.125],"nice":false,"zero":false},"axis":{"values":[4.075,4.08,4.09,4.1,4.11,4.12,4.125],"labelExpr":"''+datum.value","title":null,"labelPadding":7,"labelFont":"Liberation Serif","labelFontWeight":"bold","labelFontSize":12,"labelColor":"#888"}},
      "y":{"field":"v","type":"quantitative","scale":{"domain":[-1000,1000],"nice":false},"axis":{"values":[-1000,-500,0,500,1000],"labelExpr":"''+datum.value","title":null,"labelPadding":10,"minExtent":40,"maxExtent":40}}
     },
     "layer":[
      {"data":{"name":"pv"},"transform":[{"filter":"datum.t >= 4.075 && datum.t <= 4.125"},{"fold":["a","b","c"],"as":["ph","v"]}],"mark":{"type":"line","interpolate":"monotone","strokeWidth":1.8},"encoding":{"color":{"field":"ph","type":"nominal","scale":{"domain":["a","b","c"],"range":["#ff2a2a","#2a2aff","#22dd22"]},"legend":null}}},
      {"data":{"values":[{"t":4.1,"v":1000,"v2":-1000}]},"mark":{"type":"rule","color":"#000","strokeWidth":3,"strokeDash":[12,5]},"encoding":{"y2":{"field":"v2"}}},
      {"data":{"values":[{"t":4.075,"t2":4.0999,"v":639}]},"mark":{"type":"rule","color":"#e01ed8","strokeWidth":2},"encoding":{"x2":{"field":"t2"}}},
      {"data":{"values":[{"t":4.1002,"t2":4.125,"v":639}]},"mark":{"type":"rule","color":"#3a2ee0","strokeWidth":2},"encoding":{"x2":{"field":"t2"}}},
      {"data":{"values":[{"t":4.0999,"v":639}]},"mark":{"type":"point","shape":"M0,0L-2,0.7L-2,-0.7Z","filled":true,"size":80,"color":"#e01ed8","opacity":1},"encoding":{}},
      {"data":{"values":[{"t":4.1002,"v":639}]},"mark":{"type":"point","shape":"M0,0L2,-0.7L2,0.7Z","filled":true,"size":80,"color":"#3a2ee0","opacity":1},"encoding":{}},
      {"data":{"values":[{"t":4.0871,"v":778,"s":"Unbalanced and distorted voltage"}]},"mark":{"type":"text","fontWeight":"bold","fontSize":14.5,"color":"#e030d8","baseline":"alphabetic"},"encoding":{"text":{"field":"s"}}},
      {"data":{"values":[{"t":4.1122,"v":778,"s":"Distorted voltage"}]},"mark":{"type":"text","fontWeight":"bold","fontSize":14.5,"color":"#3838d4","baseline":"alphabetic"},"encoding":{"text":{"field":"s"}}}
     ]
    },
    {
     "width":502,"height":128,
     "title":{"text":"(b) Positive sequence voltage (V)","dx":-6,"offset":4},
     "encoding":{
      "x":{"field":"t","type":"quantitative","scale":{"domain":[4.075,4.125],"nice":false,"zero":false},"axis":{"values":[4.075,4.08,4.09,4.1,4.11,4.12,4.125],"labelExpr":"''+datum.value","title":null,"labelPadding":7,"labelFont":"Liberation Serif","labelFontWeight":"bold","labelFontSize":12,"labelColor":"#888"}},
      "y":{"field":"v","type":"quantitative","scale":{"domain":[-1000,1000],"nice":false},"axis":{"values":[-1000,-500,0,500,1000],"labelExpr":"''+datum.value","title":null,"labelPadding":10,"minExtent":40,"maxExtent":40}}
     },
     "layer":[
      {"data":{"name":"ps"},"transform":[{"filter":"datum.t >= 4.075 && datum.t <= 4.125"},{"fold":["a","b","c"],"as":["ph","v"]}],"mark":{"type":"line","interpolate":"monotone","strokeWidth":1.8},"encoding":{"color":{"field":"ph","type":"nominal","scale":{"domain":["a","b","c"],"range":["#ff2a2a","#2a2aff","#22dd22"]},"legend":null}}},
      {"data":{"values":[{"t":4.09045,"v":610,"s":"v"},{"t":4.09624,"v":636,"s":"v"},{"t":4.10136,"v":595,"s":"v"}]},"mark":{"type":"text","fontStyle":"italic","fontSize":25,"baseline":"alphabetic","color":"#222"},"encoding":{"text":{"field":"s"}}},
      {"data":{"values":[{"t":4.091,"v":491,"s":"a"},{"t":4.09682,"v":506,"s":"b"},{"t":4.10191,"v":481,"s":"c"}]},"mark":{"type":"text","fontStyle":"italic","fontSize":14,"align":"left","baseline":"alphabetic","color":"#222"},"encoding":{"text":{"field":"s"}}},
      {"data":{"values":[{"t":4.091,"v":818,"s":"+′"},{"t":4.097,"v":834,"s":"+′"},{"t":4.10209,"v":792,"s":"+′"}]},"mark":{"type":"text","fontStyle":"italic","fontSize":14,"align":"left","baseline":"alphabetic","color":"#222"},"encoding":{"text":{"field":"s"}}},
      {"data":{"values":[{"t":4.08965,"v":351,"t2":4.08998,"v2":584}]},"layer":[{"mark":{"type":"rule","color":"#111","strokeWidth":1.2},"encoding":{"x2":{"field":"t2"},"y2":{"field":"v2"}}},{"mark":{"type":"point","shape":"M0,0L-0.27,-2.1L1.1,-1.81Z","filled":true,"size":49,"color":"#111","opacity":1},"encoding":{}}]},
      {"data":{"values":[{"t":4.09355,"v":506,"t2":4.09536,"v2":662}]},"layer":[{"mark":{"type":"rule","color":"#111","strokeWidth":1.2},"encoding":{"x2":{"field":"t2"},"y2":{"field":"v2"}}},{"mark":{"type":"point","shape":"M0,0L1.41,-1.58L2.09,-0.36Z","filled":true,"size":49,"color":"#111","opacity":1},"encoding":{}}]},
      {"data":{"values":[{"t":4.09973,"v":455,"t2":4.10064,"v2":610}]},"layer":[{"mark":{"type":"rule","color":"#111","strokeWidth":1.2},"encoding":{"x2":{"field":"t2"},"y2":{"field":"v2"}}},{"mark":{"type":"point","shape":"M0,0L0.82,-1.95L1.86,-1.02Z","filled":true,"size":49,"color":"#111","opacity":1},"encoding":{}}]}
     ]
    },
    {
     "width":502,"height":128,
     "title":{"text":"(c) Positive-sequence component of grid voltage in dq-axis (V)","dx":-7,"offset":10},
     "encoding":{
      "x":{"field":"t","type":"quantitative","scale":{"domain":[4.075,4.125],"nice":false,"zero":false},"axis":{"values":[4.075,4.08,4.09,4.1,4.11,4.12,4.125],"labels":false,"title":null}},
      "y":{"field":"v","type":"quantitative","scale":{"domain":[-200,800],"nice":false},"axis":{"values":[-200,0,200,400,600,800],"labelExpr":"''+datum.value","title":null,"labelPadding":10,"minExtent":40,"maxExtent":40}}
     },
     "layer":[
      {"data":{"name":"dq"},"transform":[{"filter":"datum.t >= 4.075 && datum.t <= 4.125"},{"fold":["d","q"],"as":["ph","v"]}],"mark":{"type":"line","strokeWidth":2.6},"encoding":{"color":{"field":"ph","type":"nominal","scale":{"domain":["d","q"],"range":["#f01818","#1c1ce8"]},"legend":null}}},
      {"data":{"values":[{"t":4.10749,"v":281,"s":"E"},{"t":4.07932,"v":91,"s":"E"}]},"mark":{"type":"text","fontStyle":"italic","fontSize":24,"baseline":"alphabetic","color":"#222"},"encoding":{"text":{"field":"s"}}},
      {"data":{"values":[{"t":4.10832,"v":368,"s":"+"},{"t":4.08004,"v":153,"s":"+"}]},"mark":{"type":"text","font":"Liberation Sans","fontWeight":"bold","fontSize":18,"align":"left","baseline":"alphabetic","color":"#222"},"encoding":{"text":{"field":"s"}}},
      {"data":{"values":[{"t":4.10832,"v":234,"s":"qe"},{"t":4.08004,"v":57,"s":"de"}]},"mark":{"type":"text","fontStyle":"italic","fontSize":14,"align":"left","baseline":"alphabetic","color":"#222"},"encoding":{"text":{"field":"s"}}},
      {"data":{"values":[{"t":4.1058,"v":532,"t2":4.1067,"v2":390}]},"layer":[{"mark":{"type":"rule","color":"#111","strokeWidth":1.2},"encoding":{"x2":{"field":"t2"},"y2":{"field":"v2"}}},{"mark":{"type":"point","shape":"M0,0L1.53,1.46L0.28,2.1Z","filled":true,"size":49,"color":"#111","opacity":1},"encoding":{}}]},
      {"data":{"values":[{"t":4.07723,"v":0,"t2":4.07824,"v2":91}]},"layer":[{"mark":{"type":"rule","color":"#111","strokeWidth":1.2},"encoding":{"x2":{"field":"t2"},"y2":{"field":"v2"}}},{"mark":{"type":"point","shape":"M0,0L0.75,-1.98L1.82,-1.08Z","filled":true,"size":49,"color":"#111","opacity":1},"encoding":{}}]}
     ]
    },
    {
     "width":502,"height":128,
     "title":{"text":"(d) Grid phase angle (rad)","dx":-2,"offset":0},
     "encoding":{
      "x":{"field":"t","type":"quantitative","scale":{"domain":[4.075,4.125],"nice":false,"zero":false},"axis":{"values":[4.075,4.08,4.09,4.1,4.11,4.12,4.125],"labelExpr":"''+datum.value","labelPadding":7,"labelFont":"Liberation Serif","labelFontWeight":"bold","labelFontSize":12,"labelColor":"#888","title":"Times (s)","titleFont":"Liberation Serif","titleFontSize":16,"titleFontWeight":"bold","titleColor":"#000","titlePadding":2,"titleX":298}},
      "y":{"field":"v","type":"quantitative","scale":{"domain":[-4,4],"nice":false},"axis":{"values":[-4,-2,0,2,4],"labelExpr":"''+datum.value","title":null,"labelPadding":10,"minExtent":40,"maxExtent":40}}
     },
     "layer":[
      {"data":{"name":"th"},"transform":[{"filter":"datum.t >= 4.075 && datum.t <= 4.125"}],"mark":{"type":"line","strokeWidth":2,"color":"#f01818"},"encoding":{}},
      {"data":{"values":[{"t":4.09807,"v":1.16,"s":"θ"}]},"mark":{"type":"text","fontStyle":"italic","fontSize":22,"baseline":"alphabetic","color":"#222"},"encoding":{"text":{"field":"s"}}},
      {"data":{"values":[{"t":4.09626,"v":0.87,"t2":4.09727,"v2":1.68}]},"layer":[{"mark":{"type":"rule","color":"#111","strokeWidth":1.2},"encoding":{"x2":{"field":"t2"},"y2":{"field":"v2"}}},{"mark":{"type":"point","shape":"M0,0L0.65,-2.02L1.76,-1.18Z","filled":true,"size":49,"color":"#111","opacity":1},"encoding":{}}]}
     ]
    }
   ],
   "spacing":6,
   "title":{"text":"(B) Unbalanced and distorted voltage","anchor":"middle","frame":"bounds","dx":-36,"offset":9,"fontSize":19,"fontWeight":"bold","color":"#f01010"}
  }
 ],
 "spacing":45
}
],
"spacing":-58
}
